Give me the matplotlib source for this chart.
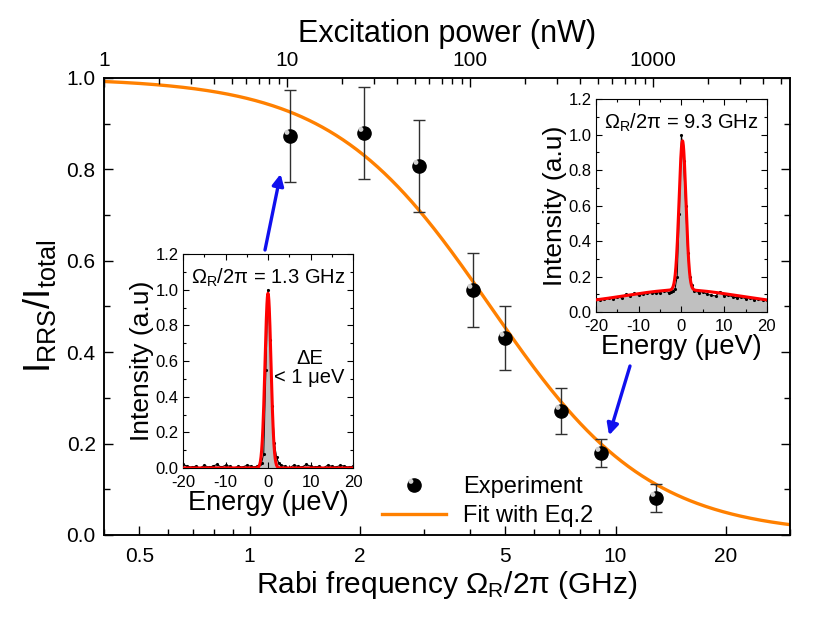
import numpy as np
import matplotlib
matplotlib.use("Agg")
import matplotlib.pyplot as plt
from matplotlib.path import Path
from matplotlib.markers import MarkerStyle
from matplotlib.lines import Line2D
from matplotlib.legend_handler import HandlerTuple
from matplotlib.ticker import LogLocator, NullFormatter, FixedLocator, MultipleLocator, FormatStrFormatter

plt.rcParams['font.family'] = ['Liberation Sans', 'DejaVu Sans']
plt.rcParams['mathtext.fontset'] = 'custom'
plt.rcParams['mathtext.rm'] = 'Liberation Sans'
plt.rcParams['mathtext.it'] = 'Liberation Sans:italic'
plt.rcParams['axes.unicode_minus'] = False

# ---------------- data ----------------
rabi_ghz = [1.29, 2.06, 2.90, 4.09, 5.00, 7.08, 9.10, 12.9]
rrs_frac = [0.873, 0.880, 0.807, 0.536, 0.431, 0.271, 0.179, 0.081]
rrs_err = [0.10, 0.10, 0.10, 0.08, 0.07, 0.05, 0.03, 0.03]

fit_omega0 = 4.55         # GHz, saturation Rabi frequency of the fit (Eq.2)
omega_min, omega_max = 0.4, 30.0
power_ref_omega = 0.4     # Rabi freq. (GHz) at 1 nW excitation power

x_ticks = [0.5, 1, 2, 5, 10, 20]
x_ticklabels = ['0.5', '1', '2', '5', '10', '20']
power_ticks = [1, 10, 100, 1000]
power_ticklabels = ['1', '10', '100', '1000']

# inset spectra (energy in ueV, normalized intensity)
energy = [-20, -19, -18, -17, -16, -15, -14, -13, -12, -11, -10, -9, -8, -7, -6, -5, -4, -3,
          -2.5, -2, -1.5, -1, -0.5, 0, 0.5, 1, 1.5, 2, 2.5,
          3, 4, 5, 6, 7, 8, 9, 10, 11, 12, 13, 14, 15, 16, 17, 18, 19, 20]
spec_low = [0.02, 0.01, 0.005, 0.01, 0.0, 0.015, 0.005, 0.01, 0.02, 0.005, 0.015, 0.01, 0.0,
            0.01, 0.005, 0.015, 0.01, 0.005,
            0.01, 0.02, 0.03, 0.08, 0.55, 1.0, 0.72, 0.35, 0.14, 0.06, 0.03,
            0.015, 0.01, 0.0, 0.015, 0.01, 0.005, 0.02, 0.01, 0.005, 0.01, 0.0, 0.015, 0.01,
            0.005, 0.015, 0.01, 0.005, 0.01]
spec_high = [0.075, 0.07, 0.075, 0.08, 0.075, 0.085, 0.08, 0.10, 0.09, 0.105, 0.095, 0.10, 0.105,
             0.11, 0.105, 0.11, 0.12, 0.11,
             0.115, 0.12, 0.13, 0.20, 0.55, 1.0, 0.85, 0.60, 0.33, 0.20, 0.15,
             0.12, 0.11, 0.115, 0.10, 0.095, 0.09, 0.115, 0.09, 0.095, 0.085, 0.08, 0.085, 0.075,
             0.08, 0.07, 0.075, 0.07, 0.07]
# fit parameters of the inset spectra
low_peak, low_center, low_sigma = 0.98, 0.0, 0.7
high_peak, high_center, high_sigma = 0.84, 0.25, 0.8
high_bg_amp, high_bg_width = 0.125, 22.0

orange = '#ff8000'
blue = '#1010ee'

fig = plt.figure(figsize=(8.3, 6.17), dpi=100)
ax = fig.add_axes([0.1253, 0.133, 0.8267, 0.7406])

# fit curve
om = np.logspace(np.log10(omega_min), np.log10(omega_max), 400)
fit_line, = ax.plot(om, 1.0 / (1.0 + (om / fit_omega0) ** 2), color=orange, lw=2.4, zorder=2)

# experiment points with error bars
ax.errorbar(rabi_ghz, rrs_frac, yerr=rrs_err, fmt='none', ecolor='#303030', elinewidth=1.0,
            capsize=4.5, capthick=1.0, zorder=3)
ax.plot(rabi_ghz, rrs_frac, 'o', color='black', ms=9.5, mec='black', zorder=4, linestyle='none')
hl_marker = MarkerStyle(Path.circle((-0.13, 0.15), 0.09))
ax.plot(rabi_ghz, rrs_frac, linestyle='none', marker=hl_marker, ms=9.5, color='#d0d0d0',
        mec='none', zorder=5)

ax.set_xscale('log')
ax.set_xlim(omega_min, omega_max)
ax.set_ylim(0, 1.0)
ax.xaxis.set_major_locator(FixedLocator(x_ticks))
ax.set_xticklabels(x_ticklabels)
ax.xaxis.set_minor_locator(LogLocator(base=10, subs=np.arange(2, 10)))
ax.xaxis.set_minor_formatter(NullFormatter())
ax.yaxis.set_major_locator(MultipleLocator(0.2))
ax.yaxis.set_minor_locator(MultipleLocator(0.1))
ax.yaxis.set_major_formatter(FormatStrFormatter('%.1f'))
ax.tick_params(which='both', direction='in', top=False, right=True, labelsize=15, width=1.0)
ax.tick_params(which='major', length=6.5)
ax.tick_params(which='minor', length=4)
ax.tick_params(axis='x', pad=9)
ax.tick_params(axis='y', pad=6)
ax.set_xlabel('Rabi frequency Ω$_\\mathrm{R}$/2π (GHz)', fontsize=21.5, labelpad=2)
ax.set_ylabel('I$_\\mathrm{RRS}$/I$_\\mathrm{total}$', fontsize=26, labelpad=6)

# top axis: excitation power
ax2 = ax.twiny()
ax2.set_xscale('log')
ax2.set_xlim((omega_min / power_ref_omega) ** 2, (omega_max / power_ref_omega) ** 2)
ax2.xaxis.set_major_locator(FixedLocator(power_ticks))
ax2.set_xticklabels(power_ticklabels)
ax2.xaxis.set_minor_locator(LogLocator(base=10, subs=np.arange(2, 10)))
ax2.xaxis.set_minor_formatter(NullFormatter())
ax2.tick_params(which='both', direction='in', labelsize=15, width=1.0, pad=6)
ax2.tick_params(which='major', length=6.5)
ax2.tick_params(which='minor', length=4)
ax2.set_xlabel('Excitation power (nW)', fontsize=22, labelpad=6)

for a in (ax, ax2):
    for s in a.spines.values():
        s.set_linewidth(1.1)

# legend
exp_handle = (Line2D([], [], linestyle='none', marker='o', ms=9.5, color='black'),
              Line2D([], [], linestyle='none', marker=hl_marker, ms=9.5, color='#d0d0d0', mec='none'))
ax.legend([exp_handle, fit_line], ['Experiment', 'Fit with Eq.2'], frameon=False, fontsize=17,
          loc='lower left', bbox_to_anchor=(382 / 830, 1 - 527 / 617), bbox_transform=fig.transFigure,
          borderpad=0, borderaxespad=0, handlelength=2.7, handletextpad=0.75, labelspacing=0.3,
          handler_map={tuple: HandlerTuple(ndivide=1, pad=0)})

# arrows
ax.annotate('', xy=(1.215, 0.79), xytext=(265 / 830, 1 - 250 / 617), textcoords='figure fraction',
            arrowprops=dict(arrowstyle='-|>', color=blue, lw=2.4, mutation_scale=17,
                            shrinkA=0, shrinkB=0), zorder=6)
ax.annotate('', xy=(9.6, 0.218), xytext=(630 / 830, 1 - 366 / 617), textcoords='figure fraction',
            arrowprops=dict(arrowstyle='-|>', color=blue, lw=2.4, mutation_scale=17,
                            shrinkA=0, shrinkB=0), zorder=6)


def draw_inset(rect, spec, fit_y, label):
    ia = fig.add_axes(rect)
    ia.fill_between(energy, spec, 0, color='#c0c0c0', lw=0, zorder=1)
    ia.plot(energy, spec, '-', color='black', lw=0.8, marker='.', ms=2.5, zorder=2)
    ef = np.linspace(-20, 20, 801)
    ia.plot(ef, fit_y(ef), color='#ff0000', lw=2.2, zorder=3)
    ia.set_xlim(-20, 20)
    ia.set_ylim(0, 1.2)
    ia.xaxis.set_major_locator(MultipleLocator(10))
    ia.xaxis.set_minor_locator(MultipleLocator(5))
    ia.yaxis.set_major_locator(MultipleLocator(0.2))
    ia.yaxis.set_minor_locator(MultipleLocator(0.1))
    ia.yaxis.set_major_formatter(FormatStrFormatter('%.1f'))
    ia.tick_params(which='both', direction='in', top=True, right=True, labelsize=12, width=0.8)
    ia.tick_params(which='major', length=4)
    ia.tick_params(which='minor', length=2.5)
    ia.tick_params(axis='x', pad=5)
    ia.tick_params(axis='y', pad=3)
    ia.set_xlabel('Energy (μeV)', fontsize=19.5, labelpad=0)
    ia.set_ylabel('Intensity (a.u)', fontsize=19, labelpad=1)
    ia.text(0.5, 0.89, label, transform=ia.transAxes, ha='center', va='center', fontsize=14.5)
    for s in ia.spines.values():
        s.set_linewidth(0.8)
    return ia


ins1 = draw_inset([0.2205, 0.2415, 0.2048, 0.3468], spec_low,
                  lambda e: low_peak * np.exp(-0.5 * ((e - low_center) / low_sigma) ** 2),
                  'Ω$_\\mathrm{R}$/2π = 1.3 GHz')
ins1.text(0.745, 0.467, 'ΔE\n< 1 μeV', transform=ins1.transAxes, ha='center', va='center',
          fontsize=14.5, linespacing=1.05)
ins2 = draw_inset([0.718, 0.4943, 0.206, 0.345], spec_high,
                  lambda e: high_peak * np.exp(-0.5 * ((e - high_center) / high_sigma) ** 2)
                  + high_bg_amp / (1 + (e / high_bg_width) ** 2),
                  'Ω$_\\mathrm{R}$/2π = 9.3 GHz')

fig.savefig('out.png', dpi=100)
